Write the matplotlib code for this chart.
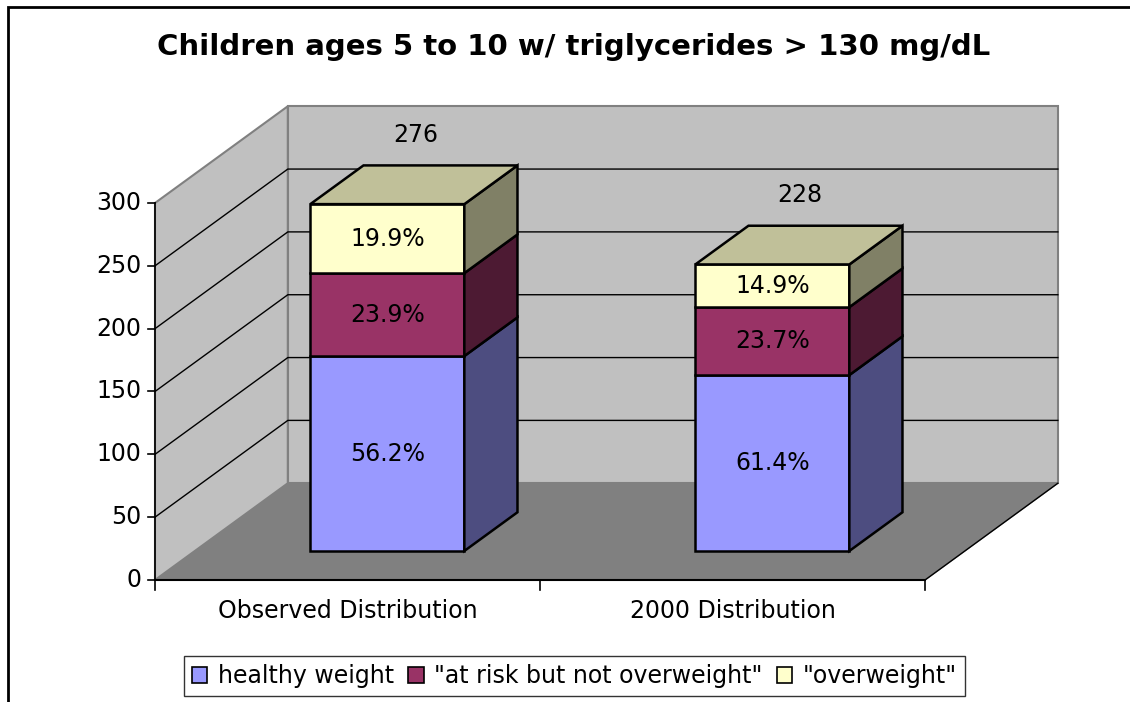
import matplotlib.pyplot as plt
from matplotlib.patches import Polygon, Patch, Rectangle

categories = ["Observed Distribution", "2000 Distribution"]
totals = [276, 228]
series = ["healthy weight", '"at risk but not overweight"', '"overweight"']
healthy_pct = [56.2, 61.4]
at_risk_pct = [23.9, 23.7]
overweight_pct = [19.9, 14.9]
y_ticks = [0, 50, 100, 150, 200, 250, 300]

front_colors = ["#9999ff", "#993366", "#ffffcc"]
side_colors = ["#4d4d80", "#4d1a33", "#808066"]
top_colors = ["#7373bf", "#73264d", "#c0c099"]

# oblique projection: depth d in [0, 1] shifts right (in category units) and up (in value units)
DX, DY = 0.345, 77.0
BAR_HALF = 0.2
D0, D1 = 0.3, 0.7
YMAX = 300
FS = 17


def proj(x, v, d):
    return (x + d * DX, v + d * DY)


def face(ax, pts, fc, ec="black", lw=1.8, z=2):
    ax.add_patch(Polygon([proj(*p) for p in pts], closed=True, facecolor=fc,
                         edgecolor=ec, linewidth=lw, zorder=z, joinstyle="miter"))


fig = plt.figure(figsize=(11.3, 7.02), dpi=100)
ax = fig.add_axes([0, 0, 1, 1])
# pixel layout: origin at (155, 580), 385 px per category, 1.2567 px per unit
ax.set_xlim(-155 / 385, (1130 - 155) / 385)
ax.set_ylim(-(702 - 580) / 1.2567, 580 / 1.2567)
ax.axis("off")

fig.add_artist(Rectangle((8 / 1130, -0.1), 1.2, 1 - 7 / 702 + 0.1,
                         transform=fig.transFigure, fill=False,
                         edgecolor="black", linewidth=2))

n = len(categories)
# floor and walls
face(ax, [(0, 0, 0), (n, 0, 0), (n, 0, 1), (0, 0, 1)], "#808080", ec="#808080", lw=1, z=0)
face(ax, [(0, 0, 0), (0, 0, 1), (0, YMAX, 1), (0, YMAX, 0)], "#c0c0c0", ec="#808080", lw=1.5, z=0)
face(ax, [(0, 0, 1), (n, 0, 1), (n, YMAX, 1), (0, YMAX, 1)], "#c0c0c0", ec="#808080", lw=1.5, z=0)
ax.plot(*zip(proj(n, 0, 0), proj(n, 0, 1)), color="black", lw=1, zorder=1)

for v in y_ticks[1:-1]:
    ax.plot(*zip(proj(0, v, 0), proj(0, v, 1), proj(n, v, 1)), color="black", lw=1, zorder=1)

# value axis
ax.plot(*zip(proj(0, 0, 0), proj(0, YMAX, 0)), color="black", lw=1.2, zorder=3)
for v in y_ticks:
    ax.plot([-0.018, 0], [v, v], color="black", lw=1.2, zorder=3)
    ax.text(-0.035, v, str(v), ha="right", va="center", fontsize=FS)

# category axis
ax.plot(*zip(proj(0, 0, 0), proj(n, 0, 0)), color="black", lw=1.5, zorder=3)
for i in range(n + 1):
    ax.plot([i, i], [0, -8], color="black", lw=1.2, zorder=3)
for i, cat in enumerate(categories):
    ax.text(i + 0.5, -24.5, cat, ha="center", va="center", fontsize=FS)

# stacked 3-D columns
for i in range(n):
    c = i + 0.5
    x0, x1 = c - BAR_HALF, c + BAR_HALF
    pcts = [healthy_pct[i], at_risk_pct[i], overweight_pct[i]]
    base = 0
    for k, p in enumerate(pcts):
        top = base + totals[i] * p / 100
        face(ax, [(x0, base, D0), (x1, base, D0), (x1, top, D0), (x0, top, D0)], front_colors[k])
        face(ax, [(x1, base, D0), (x1, base, D1), (x1, top, D1), (x1, top, D0)], side_colors[k])
        lx, ly = proj(c, (base + top) / 2, D0)
        ax.text(lx, ly, f"{p}%", ha="center", va="center", fontsize=FS, zorder=4)
        base = top
    face(ax, [(x0, base, D0), (x1, base, D0), (x1, base, D1), (x0, base, D1)], top_colors[-1])
    tx, ty = proj(c, totals[i], 0.5)
    ax.annotate(str(totals[i]), (tx, ty), xytext=(1, 36), textcoords="offset points",
                ha="center", va="center", fontsize=FS)

fig.text(574 / 1130, 1 - 47 / 702, "Children ages 5 to 10 w/ triglycerides > 130 mg/dL",
         ha="center", va="center", fontsize=21, fontweight="bold")

handles = [Patch(facecolor=front_colors[k], edgecolor="black", linewidth=1.2) for k in range(3)]
fig.legend(handles, series, loc="center", bbox_to_anchor=(574.5 / 1130, 1 - 676 / 702),
           ncol=3, fontsize=FS, frameon=True, fancybox=False, edgecolor="black",
           handlelength=0.65, handleheight=0.65, handletextpad=0.45, columnspacing=0.6,
           borderpad=0.35, borderaxespad=0)

fig.savefig("out.png", dpi=100)
